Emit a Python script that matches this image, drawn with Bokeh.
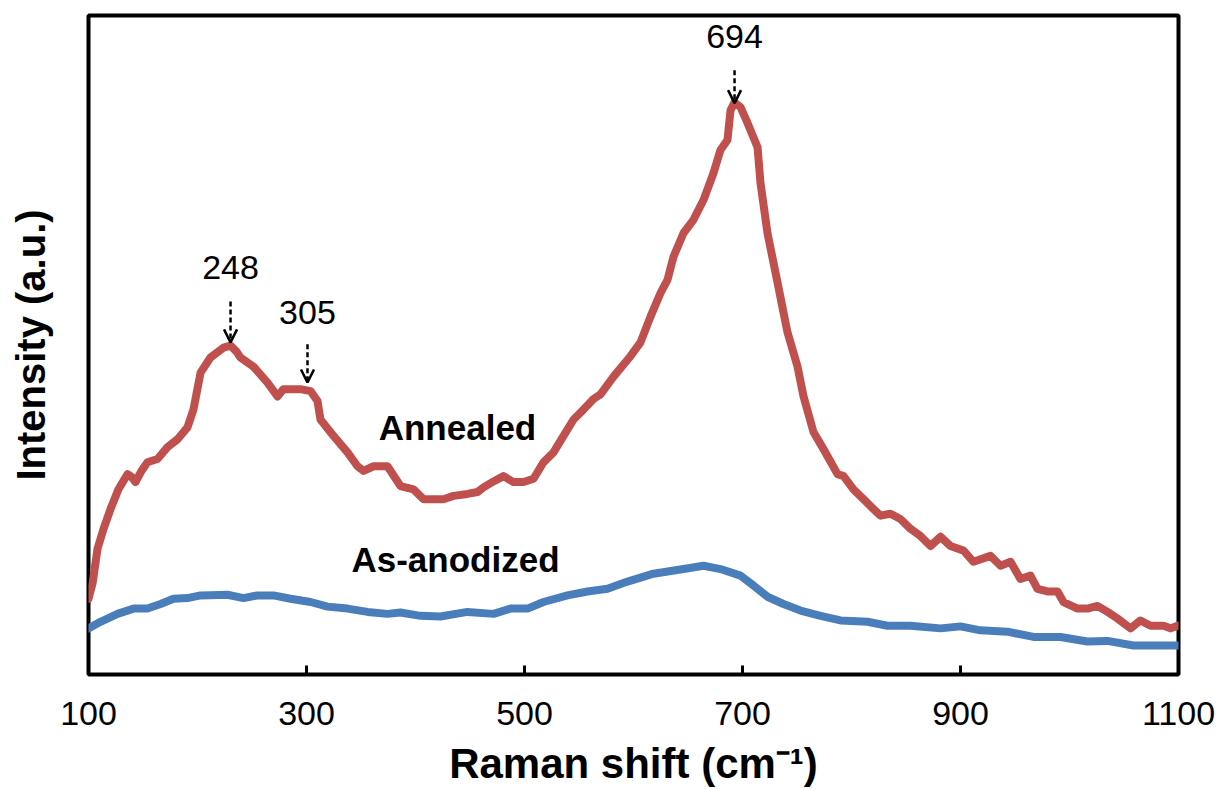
from bokeh.plotting import figure
from bokeh.models import Range1d, FixedTicker, ColumnDataSource, Arrow, OpenHead
from bokeh.core.properties import value
from bokeh.embed import file_html
from bokeh.resources import INLINE

# Annealed spectrum (Raman shift cm^-1, intensity a.u.)
annealed_x = [100, 103.7, 108.3, 113.8, 120.2, 127.5, 135.8, 139.4, 143.1, 148.6, 154.1, 163.3,
              172.5, 181.7, 190.8, 196.3, 202.8, 211.9, 223.9, 230.3, 235.8, 239.4, 251.4, 264.2,
              273.4, 278.9, 294.5, 303.7, 310.1, 312.8, 324.8, 337.6, 346.8, 352.3, 361.5, 374.3,
              386.2, 398.2, 407.3, 416.5, 425.7, 434.9, 447.7, 456.9, 462.4, 471.6, 480.7, 489.9,
              499.1, 508.3, 517.4, 526.6, 535.8, 545.0, 554.1, 563.3, 569.7, 581.7, 597.2, 606.4,
              615.6, 624.8, 631.2, 636.7, 645.9, 655.0, 664.2, 673.4, 679.8, 686.2, 689.0, 692.6,
              698.2, 704.6, 713.8, 716.5, 722.9, 732.1, 741.3, 750.5, 756.0, 765.1, 774.3, 787.2,
              792.7, 801.8, 811.0, 820.2, 826.6, 835.8, 844.9, 854.1, 863.3, 872.5, 881.7, 890.8,
              902.8, 911.9, 927.5, 936.7, 945.9, 955.0, 964.2, 970.6, 979.8, 989.0, 994.5, 1007.3,
              1016.5, 1025.7, 1034.9, 1044.0, 1056.0, 1065.1, 1074.3, 1086.2, 1092.7, 1099.1]
annealed_y = [11.5, 13.8, 19.1, 22.1, 25.1, 28.1, 30.4, 30.0, 29.2, 30.9, 32.2, 32.7,
              34.5, 35.7, 37.5, 40.2, 45.8, 48.1, 49.6, 49.9, 49.0, 48.1, 46.7, 44.3,
              42.2, 43.3, 43.3, 43.0, 41.5, 38.7, 36.2, 33.7, 31.6, 30.9, 31.6, 31.6,
              28.6, 28.1, 26.6, 26.6, 26.6, 27.1, 27.4, 27.7, 28.4, 29.3, 30.1, 29.2,
              29.2, 29.7, 32.2, 33.7, 36.2, 38.7, 40.2, 41.8, 42.5, 45.2, 48.3, 50.4,
              54.3, 57.9, 59.9, 63.4, 67.0, 69.0, 72.0, 76.1, 79.6, 81.1, 85.6, 86.8,
              86.1, 83.7, 80.0, 74.6, 67.0, 59.5, 51.9, 46.7, 42.2, 36.8, 34.2, 30.4,
              30.1, 28.1, 26.6, 25.1, 24.1, 24.4, 23.6, 22.1, 21.0, 19.5, 20.9, 19.5,
              18.8, 17.1, 18.0, 16.5, 17.1, 14.5, 15.0, 13.0, 12.6, 12.6, 11.0, 10.0,
              10.0, 10.4, 9.5, 8.5, 7.0, 8.2, 7.4, 7.4, 7.0, 7.4]

# As-anodized spectrum
anodized_x = [100, 111.0, 126.6, 141.3, 154.1, 166.1, 178.0, 190.8, 202.8, 227.5, 242.2, 255.0,
              269.7, 285.3, 303.7, 319.3, 337.6, 356.0, 374.3, 386.2, 404.6, 422.9, 447.7, 471.6,
              487.2, 502.8, 517.4, 539.4, 557.8, 576.1, 594.5, 618.3, 645.9, 664.2, 679.8, 698.2,
              710.1, 722.9, 737.6, 753.2, 771.6, 789.9, 814.7, 833.0, 854.1, 881.7, 900.0, 918.3,
              943.1, 967.0, 991.7, 1016.5, 1034.9, 1058.7, 1083.5, 1099.1]
anodized_y = [7.0, 8.0, 9.2, 10.0, 10.0, 10.7, 11.5, 11.6, 12.0, 12.1, 11.6, 12.0,
              12.0, 11.5, 11.0, 10.3, 10.0, 9.5, 9.2, 9.4, 8.9, 8.8, 9.5, 9.2,
              10.0, 10.0, 11.0, 12.0, 12.6, 13.0, 14.1, 15.3, 16.0, 16.5, 16.0, 15.0,
              13.5, 11.8, 10.7, 9.7, 8.9, 8.2, 8.0, 7.4, 7.4, 7.0, 7.3, 6.7,
              6.5, 5.7, 5.7, 5.0, 5.1, 4.4, 4.4, 4.4]

# Peak annotations
peak_labels = ["248", "305", "694"]
peak_x = [230.3, 300.9, 692.7]
peak_top = [56.6, 50.1, 91.7]
peak_end = [50.4, 44.3, 86.7]
peak_label_y = [61.7, 54.9, 96.8]

series_labels = ["Annealed", "As-anodized"]
series_label_x = [438.5, 436.7]
series_label_y = [37.5, 17.4]

x_ticks = [100, 300, 500, 700, 900, 1100]

FONT = "Liberation Sans"

p = figure(width=1222, height=789, output_backend="svg", toolbar_location=None,
           x_range=Range1d(100, 1100), y_range=Range1d(0, 100),
           min_border_left=88, min_border_right=44, min_border_top=15, min_border_bottom=113)
p.background_fill_color = "white"
p.border_fill_color = "white"
p.grid.visible = False
p.outline_line_color = "black"
p.outline_line_width = 4

# x axis
xa = p.xaxis[0]
xa.ticker = FixedTicker(ticks=x_ticks)
xa.axis_line_color = None
xa.major_tick_in = 9
xa.major_tick_out = 0
xa.major_tick_line_width = 3
xa.major_tick_line_color = "black"
xa.minor_tick_line_color = None
xa.major_label_text_font = FONT
xa.major_label_text_font_size = "34px"
xa.major_label_text_color = "black"
xa.major_label_standoff = 27
xa.axis_label = "Raman shift (cm⁻¹)"
xa.axis_label_text_font = FONT
xa.axis_label_text_font_size = "42px"
xa.axis_label_text_font_style = "bold"
xa.axis_label_text_color = "black"
xa.axis_label_standoff = 12

# y axis
ya = p.yaxis[0]
ya.ticker = FixedTicker(ticks=[])
ya.axis_line_color = None
ya.major_tick_line_color = None
ya.minor_tick_line_color = None
ya.major_label_text_font_size = "0px"
ya.axis_label = "Intensity (a.u.)"
ya.axis_label_text_font = FONT
ya.axis_label_text_font_size = "40px"
ya.axis_label_text_font_style = "bold"
ya.axis_label_text_color = "black"
ya.axis_label_standoff = 36

p.line(anodized_x, anodized_y, line_color="#4A7EBB", line_width=8, line_join="round", line_cap="round")
p.line(annealed_x, annealed_y, line_color="#C0504D", line_width=8, line_join="round", line_cap="round")

for px, yt, ye in zip(peak_x, peak_top, peak_end):
    p.add_layout(Arrow(end=OpenHead(size=13, line_width=2.5, line_color="black"),
                       x_start=px, y_start=yt, x_end=px, y_end=ye,
                       line_color="black", line_width=2.5, line_dash="5 3"))

src = ColumnDataSource(dict(x=peak_x, y=peak_label_y, t=peak_labels))
p.text("x", "y", text="t", source=src, text_font=value(FONT), text_font_size="34px",
       text_align="center", text_baseline="middle", text_color="black")

src2 = ColumnDataSource(dict(x=series_label_x, y=series_label_y, t=series_labels))
p.text("x", "y", text="t", source=src2, text_font=value(FONT), text_font_size="35px",
       text_font_style="bold", text_align="center", text_baseline="middle", text_color="black")

open("out.html", "w").write(file_html(p, INLINE))
